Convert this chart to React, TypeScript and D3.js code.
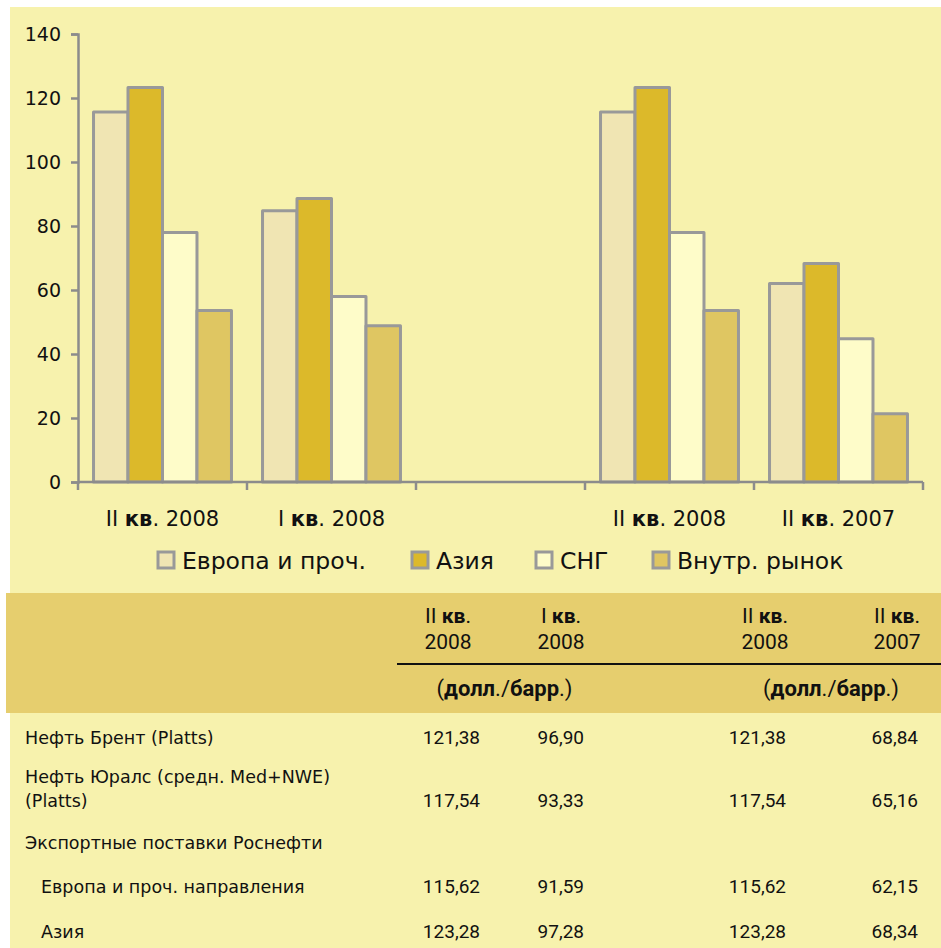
import React, { useRef, useEffect } from 'react';
import * as d3 from 'd3';

// chart categories (third slot is an empty gap in the original)
const quarters = ['II', 'I', '', 'II', 'II'];
const years = ['2008', '2008', '', '2008', '2007'];

const seriesNames = ['Европа и проч.', 'Азия', 'СНГ', 'Внутр. рынок'];
const seriesColors = ['#F0E5B3', '#DCB92A', '#FEFCC9', '#DFC662'];

const europe = [115.6, 84.8, null, 115.6, 62.0];
const asia = [123.3, 88.6, null, 123.3, 68.3];
const cis = [78.0, 58.0, null, 78.0, 44.8];
const domestic = [53.6, 48.8, null, 53.6, 21.3];

const yTicks = [0, 20, 40, 60, 80, 100, 120, 140];

// table
const tableQuarters = ['II', 'I', 'II', 'II'];
const tableYears = ['2008', '2008', '2008', '2007'];
const unitLabel = 'долл./барр.';

const rowLabels = [
  ['Нефть Брент (Platts)'],
  ['Нефть Юралс (средн. Med+NWE)', '(Platts)'],
  ['Экспортные поставки Роснефти'],
  ['Европа и проч. направления'],
  ['Азия'],
];
const brent = ['121,38', '96,90', '121,38', '68,84'];
const urals = ['117,54', '93,33', '117,54', '65,16'];
const exportHeader: string[] = [];
const europeRow = ['115,62', '91,59', '115,62', '62,15'];
const asiaRow = ['123,28', '97,28', '123,28', '68,34'];

const W = 941;
const H = 948;
const chartFont = '"DejaVu Sans", sans-serif';
const tableFont = 'Roboto, "Liberation Sans", Arial, sans-serif';

const App: React.FC = () => {
  const svgRef = useRef<SVGSVGElement | null>(null);

  useEffect(() => {
    if (!svgRef.current) return;
    const svg = d3.select(svgRef.current);
    svg.selectAll('*').remove();

    // фон
    svg.append('rect').attr('x', 10).attr('y', 7).attr('width', W - 10).attr('height', H - 7).attr('fill', '#F7F2AD');

    const x0 = d3.scaleBand<number>().domain(d3.range(quarters.length)).range([78, 923]).padding(0);
    const x1 = d3
      .scaleBand<number>()
      .domain(d3.range(seriesNames.length))
      .range([0, x0.bandwidth()])
      .paddingInner(0)
      .paddingOuter(0.45);
    const y = d3.scaleLinear().domain([0, 140]).range([482, 34]);

    const allSeries = [europe, asia, cis, domestic];

    // бары
    const gBars = svg.append('g');
    allSeries.forEach((vals, si) => {
      gBars
        .selectAll(`.bar-${si}`)
        .data(vals.map((v, i) => ({ v, i })).filter((d) => d.v !== null))
        .enter()
        .append('rect')
        .attr('x', (d) => x0(d.i)! + x1(si)!)
        .attr('y', (d) => y(d.v as number))
        .attr('width', x1.bandwidth())
        .attr('height', (d) => y(0) - y(d.v as number))
        .attr('fill', seriesColors[si])
        .attr('stroke', '#999999')
        .attr('stroke-width', 3)
        .attr('stroke-linejoin', 'round');
    });

    // ось Y
    const yAxisG = svg.append('g').attr('transform', 'translate(78,0)');
    yAxisG.call(d3.axisLeft(y).tickValues(yTicks).tickSize(7).tickPadding(10).tickFormat((d) => String(d)));
    yAxisG.select('.domain').attr('stroke', '#8C8C8C').attr('stroke-width', 2.5);
    yAxisG.selectAll('.tick line').attr('stroke', '#8C8C8C').attr('stroke-width', 2.5);
    yAxisG
      .selectAll('.tick text')
      .attr('font-family', chartFont)
      .attr('font-size', 19)
      .attr('fill', '#111');

    // ось X
    const xAxisG = svg.append('g');
    xAxisG
      .append('line')
      .attr('x1', 78)
      .attr('x2', 923)
      .attr('y1', y(0))
      .attr('y2', y(0))
      .attr('stroke', '#8C8C8C')
      .attr('stroke-width', 2.5);
    const bounds = [...d3.range(quarters.length).map((i) => x0(i)!), 923];
    xAxisG
      .selectAll('.xtick')
      .data(bounds)
      .enter()
      .append('line')
      .attr('x1', (d) => d)
      .attr('x2', (d) => d)
      .attr('y1', y(0))
      .attr('y2', y(0) + 8)
      .attr('stroke', '#8C8C8C')
      .attr('stroke-width', 2.5);

    quarters.forEach((q, i) => {
      if (!q) return;
      const t = xAxisG
        .append('text')
        .attr('x', x0(i)! + x0.bandwidth() / 2)
        .attr('y', 526)
        .attr('text-anchor', 'middle')
        .attr('font-family', chartFont)
        .attr('font-size', 21)
        .attr('fill', '#111');
      t.append('tspan').text(q + ' ');
      t.append('tspan').attr('font-weight', 'bold').text('кв');
      t.append('tspan').text('. ' + years[i]);
    });

    // легенда
    const legendX = [158, 412, 536, 653];
    const legend = svg.append('g');
    seriesNames.forEach((name, i) => {
      legend
        .append('rect')
        .attr('x', legendX[i])
        .attr('y', 552)
        .attr('width', 16)
        .attr('height', 16)
        .attr('fill', seriesColors[i])
        .attr('stroke', '#999999')
        .attr('stroke-width', 3);
      legend
        .append('text')
        .attr('x', legendX[i] + 24)
        .attr('y', 569)
        .attr('font-family', chartFont)
        .attr('font-size', 23.5)
        .attr('fill', '#111')
        .text(name);
    });

    // таблица
    const table = svg.append('g');
    table.append('rect').attr('x', 6).attr('y', 593).attr('width', W - 6).attr('height', 120).attr('fill', '#E6CE6E');

    const colCenter = [448, 561, 765, 897];
    const colRight = [480, 584, 786, 918];
    tableQuarters.forEach((q, i) => {
      const t = table
        .append('text')
        .attr('x', colCenter[i])
        .attr('y', 623)
        .attr('text-anchor', 'middle')
        .attr('font-family', tableFont)
        .attr('font-size', 21)
        .attr('fill', '#111');
      t.append('tspan').text(q + ' ');
      t.append('tspan').attr('font-weight', 'bold').text('кв');
      t.append('tspan').text('.');
      table
        .append('text')
        .attr('x', colCenter[i])
        .attr('y', 649)
        .attr('text-anchor', 'middle')
        .attr('font-family', tableFont)
        .attr('font-size', 21)
        .attr('fill', '#111')
        .text(tableYears[i]);
    });
    table
      .append('line')
      .attr('x1', 397)
      .attr('x2', W)
      .attr('y1', 664)
      .attr('y2', 664)
      .attr('stroke', '#111')
      .attr('stroke-width', 2);

    [(colCenter[0] + colCenter[1]) / 2, (colCenter[2] + colCenter[3]) / 2].forEach((cx) => {
      const parts = unitLabel.split('/');
      const t = table
        .append('text')
        .attr('x', cx)
        .attr('y', 696)
        .attr('text-anchor', 'middle')
        .attr('font-family', tableFont)
        .attr('font-size', 22)
        .attr('fill', '#111');
      t.append('tspan').text('(');
      t.append('tspan').attr('font-weight', 'bold').text(parts[0].replace('.', ''));
      t.append('tspan').text('./');
      t.append('tspan').attr('font-weight', 'bold').text(parts[1].replace('.', ''));
      t.append('tspan').text('.)');
    });

    const rowValues = [brent, urals, exportHeader, europeRow, asiaRow];
    const labelBaselines = [[744], [783, 807], [849], [893], [938]];
    const valueBaselines = [744, 807, 849, 893, 938];
    const indents = [25, 25, 25, 41, 41];

    rowLabels.forEach((lines, ri) => {
      lines.forEach((line, li) => {
        table
          .append('text')
          .attr('x', indents[ri])
          .attr('y', labelBaselines[ri][li])
          .attr('font-family', chartFont)
          .attr('font-size', 17.5)
          .attr('fill', '#111')
          .text(line);
      });
      rowValues[ri].forEach((v, ci) => {
        table
          .append('text')
          .attr('x', colRight[ci])
          .attr('y', valueBaselines[ri])
          .attr('text-anchor', 'end')
          .attr('font-family', tableFont)
          .attr('font-size', 19)
          .attr('fill', '#111')
          .text(v);
      });
    });
  }, []);

  return (
    <svg
      ref={svgRef}
      width={W}
      height={H}
      style={{ position: 'absolute', left: 0, top: 0, background: '#fff' }}
    />
  );
};

export default App;
